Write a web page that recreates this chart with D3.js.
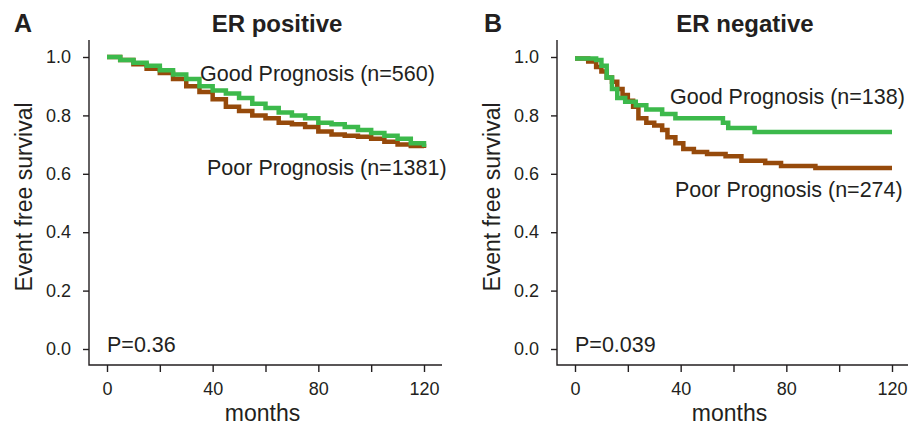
<!DOCTYPE html>
<html>
<head>
<meta charset="utf-8">
<script src="https://cdn.jsdelivr.net/npm/d3@7"></script>
<style>
  body { margin: 0; background: #fff; }
  svg { display: block; font-family: "Liberation Sans", Arial, sans-serif; }
</style>
</head>
<body>
<div id="chart"></div>
<script>
// ER positive (panel A)
const erPosTime = [0, 5, 10, 15, 20, 25, 30, 35, 40, 45, 50, 55, 60, 65, 70, 75, 80, 85, 90, 95, 100, 105, 110, 115, 120];
const erPosGood = [1.0, 0.99, 0.98, 0.97, 0.955, 0.94, 0.925, 0.90, 0.885, 0.875, 0.86, 0.84, 0.825, 0.81, 0.80, 0.79, 0.775, 0.77, 0.76, 0.75, 0.74, 0.73, 0.72, 0.705, 0.692];
const erPosPoor = [1.0, 0.99, 0.975, 0.96, 0.945, 0.925, 0.90, 0.88, 0.855, 0.83, 0.815, 0.80, 0.79, 0.775, 0.77, 0.76, 0.745, 0.735, 0.73, 0.727, 0.72, 0.71, 0.70, 0.695, 0.688];

// ER negative (panel B)
const erNegGoodTime = [0, 8, 10, 12, 14, 16, 19, 23, 27, 33, 38, 56, 58, 68, 120];
const erNegGood = [0.995, 0.99, 0.97, 0.93, 0.89, 0.86, 0.847, 0.835, 0.82, 0.805, 0.79, 0.775, 0.757, 0.743, 0.743];
const erNegPoorTime = [0, 5, 8, 10, 12, 14, 16, 18, 20, 22, 24, 27, 30, 33, 35, 38, 41, 45, 50, 57, 63, 72, 78, 91, 120];
const erNegPoor = [0.995, 0.985, 0.966, 0.95, 0.93, 0.915, 0.89, 0.87, 0.85, 0.83, 0.79, 0.775, 0.765, 0.75, 0.725, 0.705, 0.685, 0.675, 0.668, 0.66, 0.645, 0.637, 0.627, 0.62, 0.62];

const xTicks = [0, 20, 40, 60, 80, 100, 120];
const xTickLabels = ["0", "", "40", "", "80", "", "120"];
const yTicks = [0, 0.2, 0.4, 0.6, 0.8, 1.0];
const yTickLabels = ["0.0", "0.2", "0.4", "0.6", "0.8", "1.0"];

const green = "#3cb94b", brown = "#964a0b", ink = "#231f20";

const width = 909, height = 427;
const svg = d3.select("#chart").append("svg")
    .attr("width", width)
    .attr("height", height);

const y = d3.scaleLinear().domain([0, 1]).range([349, 57]);

function panel(o) {
    const x = d3.scaleLinear().domain([0, 120]).range([o.x0, o.x1]);
    const g = svg.append("g");

    // frame (L shaped, R style)
    g.append("path")
        .attr("d", `M${o.left},40V365H${o.right}`)
        .attr("fill", "none").attr("stroke", ink).attr("stroke-width", 1.4);

    const xa = g.append("g").attr("transform", "translate(0,365)")
        .call(d3.axisBottom(x).tickValues(xTicks).tickSize(7).tickPadding(10)
            .tickFormat((d, i) => xTickLabels[i]));
    const ya = g.append("g").attr("transform", `translate(${o.left},0)`)
        .call(d3.axisLeft(y).tickValues(yTicks).tickSize(6).tickPadding(12)
            .tickFormat((d, i) => yTickLabels[i]));
    [xa, ya].forEach(a => {
        a.select(".domain").remove();
        a.selectAll("line").attr("stroke", ink).attr("stroke-width", 1.4);
        a.selectAll("text").attr("fill", ink).style("font-size", "18px")
            .style("font-family", "'Liberation Sans', Arial, sans-serif");
    });

    const line = d3.line()
        .x(d => x(d[0])).y(d => y(d[1]))
        .curve(d3.curveStepAfter);

    o.series.forEach(s => {
        g.append("path")
            .datum(d3.zip(s.t, s.v))
            .attr("d", line)
            .attr("fill", "none")
            .attr("stroke", s.color)
            .attr("stroke-width", 4.5);
    });

    // titles
    g.append("text").attr("x", o.letterX).attr("y", 32)
        .attr("font-size", 25).attr("font-weight", "bold").attr("fill", ink)
        .text(o.letter);
    g.append("text").attr("x", o.titleX).attr("y", 32)
        .attr("text-anchor", "middle")
        .attr("font-size", 24).attr("font-weight", "bold").attr("fill", ink)
        .text(o.title);

    g.append("text").attr("x", (o.left + o.right) / 2 - 3).attr("y", 421)
        .attr("text-anchor", "middle").attr("font-size", 23).attr("fill", ink)
        .text("months");
    g.append("text")
        .attr("transform", `translate(${o.left - 57},197) rotate(-90)`)
        .attr("text-anchor", "middle").attr("font-size", 23).attr("fill", ink)
        .text("Event free survival");

    o.notes.forEach(n => {
        g.append("text").attr("x", n.x).attr("y", n.y)
            .attr("font-size", 21.5).attr("fill", ink).text(n.text);
    });
}

panel({
    left: 89, right: 442, x0: 107, x1: 424,
    letter: "A", letterX: 14, title: "ER positive", titleX: 277,
    series: [
        { t: erPosTime, v: erPosPoor, color: brown },
        { t: erPosTime, v: erPosGood, color: green }
    ],
    notes: [
        { text: "Good Prognosis (n=560)", x: 200, y: 81 },
        { text: "Poor Prognosis (n=1381)", x: 207, y: 175 },
        { text: "P=0.36", x: 107, y: 352 }
    ]
});

panel({
    left: 557, right: 908, x0: 575, x1: 892,
    letter: "B", letterX: 484, title: "ER negative", titleX: 745,
    series: [
        { t: erNegPoorTime, v: erNegPoor, color: brown },
        { t: erNegGoodTime, v: erNegGood, color: green }
    ],
    notes: [
        { text: "Good Prognosis (n=138)", x: 670, y: 104 },
        { text: "Poor Prognosis (n=274)", x: 675, y: 197 },
        { text: "P=0.039", x: 575, y: 352 }
    ]
});
</script>
</body>
</html>
